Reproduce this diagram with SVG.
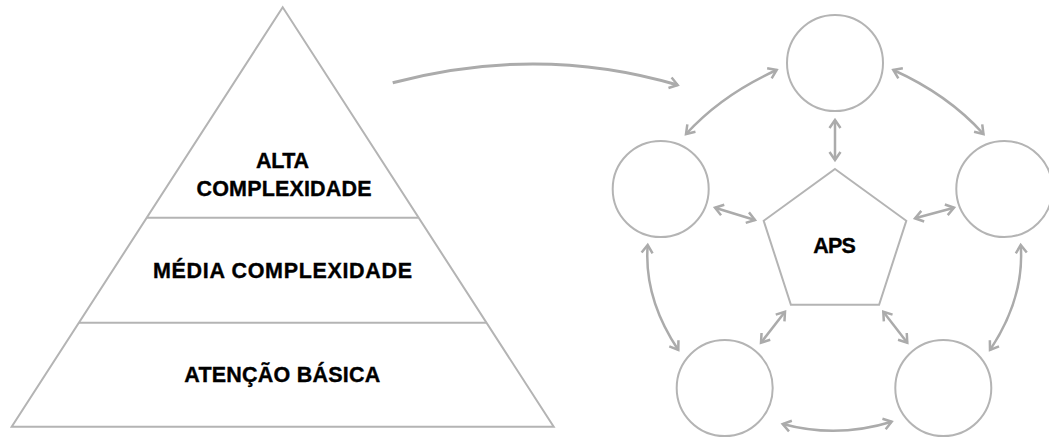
<svg xmlns="http://www.w3.org/2000/svg" width="1049" height="437" viewBox="0 0 1049 437">
<style>
.shape{fill:none;stroke:#b4b4b4;stroke-width:2}
.conn{fill:none;stroke:#ababab;stroke-width:2.5;marker-end:url(#ah);}
.dbl{marker-start:url(#ah)}
.lbl{font-family:"Liberation Sans",Arial,sans-serif;font-weight:bold;font-size:21.5px;fill:#000;stroke:#000;stroke-width:0.35;text-anchor:middle}
</style>
<defs>
<marker id="ah" markerUnits="userSpaceOnUse" markerWidth="20" markerHeight="20" viewBox="-12 -10 14 20" refX="0" refY="0" orient="auto-start-reverse">
<path d="M-8,-5.5 L0,0 L-8,5.5" fill="none" stroke="#ababab" stroke-width="2.5"/>
</marker>
</defs>
<g id="pyramid">
<path class="shape" d="M282.7,7.3 L11.7,426.7 L553.7,426.7 Z"/>
<line class="shape" x1="147" y1="217.7" x2="418.4" y2="217.7"/>
<line class="shape" x1="79" y1="322.7" x2="486.4" y2="322.7"/>
<text class="lbl" x="282.5" y="167.5" textLength="53">ALTA</text>
<text class="lbl" x="284" y="196" textLength="175">COMPLEXIDADE</text>
<text class="lbl" x="282.5" y="277.7" textLength="259">MÉDIA COMPLEXIDADE</text>
<text class="lbl" x="282.3" y="381.7" textLength="196">ATENÇÃO BÁSICA</text>
</g>
<g id="aps">
<path class="shape" d="M835,169 L906.3,220.8 L879.1,304.7 L790.9,304.7 L763.7,220.8 Z"/>
<text class="lbl" x="834.5" y="253.3" textLength="42.5">APS</text>
</g>
<g id="c-top"><circle class="shape" cx="835" cy="63" r="48"/></g>
<g id="c-left"><circle class="shape" cx="660.7" cy="189" r="48"/></g>
<g id="c-right"><circle class="shape" cx="1004.3" cy="189" r="48"/></g>
<g id="c-bl"><circle class="shape" cx="724.7" cy="388" r="48"/></g>
<g id="c-br"><circle class="shape" cx="943.3" cy="388" r="48"/></g>
<g id="connectors">
<path class="conn" style="stroke-width:3" d="M392.7,82.7 Q539,44 677.7,85"/>
<path class="conn dbl" d="M686,134 Q722,94.6 776.7,70"/>
<path class="conn dbl" d="M893.3,70 Q948,94.6 983.5,134"/>
<path class="conn dbl" d="M835,120 L835,160"/>
<path class="conn dbl" d="M715,207.7 L755,220"/>
<path class="conn dbl" d="M915,218.3 L954,207.7"/>
<path class="conn dbl" d="M647.7,245 Q643.6,298 678.3,350"/>
<path class="conn dbl" d="M1020.7,245 Q1024.7,298 990,350"/>
<path class="conn dbl" d="M785,311.7 L761,342.7"/>
<path class="conn dbl" d="M883.3,311.7 L907.3,342.7"/>
<path class="conn dbl" d="M782.7,424 Q837,438.6 891.7,421.7"/>
</g>
</svg>
